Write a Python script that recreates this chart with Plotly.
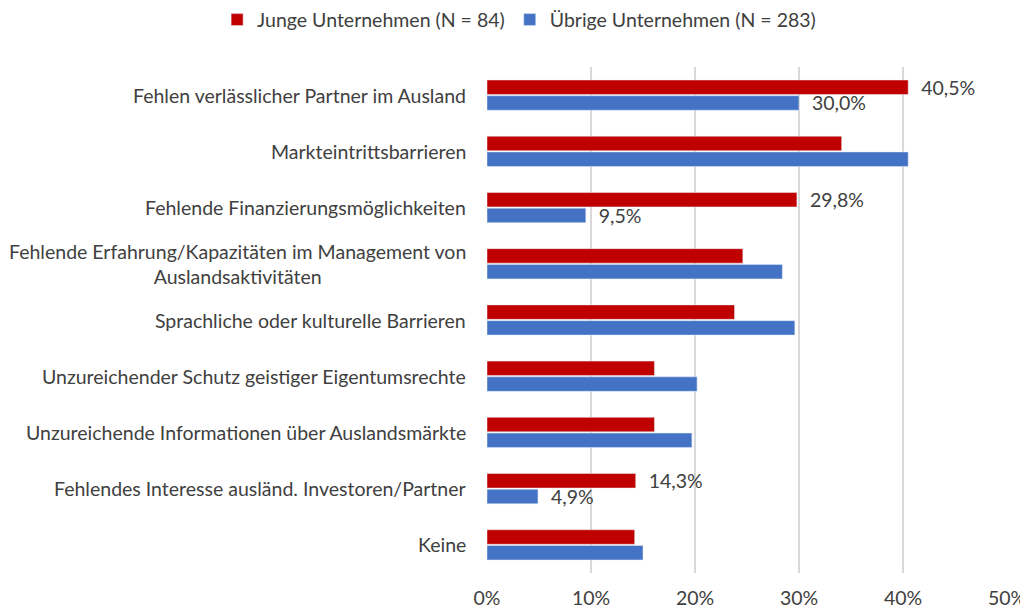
import plotly.graph_objects as go

categories = [
    "Fehlen verlässlicher Partner im Ausland",
    "Markteintrittsbarrieren",
    "Fehlende Finanzierungsmöglichkeiten",
    "Fehlende Erfahrung/Kapazitäten im Management von<br>Auslandsaktivitäten",
    "Sprachliche oder kulturelle Barrieren",
    "Unzureichender Schutz geistiger Eigentumsrechte",
    "Unzureichende Informationen über Auslandsmärkte",
    "Fehlendes Interesse ausländ. Investoren/Partner",
    "Keine",
]
junge = [40.5, 34.1, 29.8, 24.6, 23.8, 16.1, 16.1, 14.3, 14.2]
uebrige = [30.0, 40.5, 9.5, 28.4, 29.6, 20.2, 19.7, 4.9, 15.0]
junge_labels = ["40,5%", "", "29,8%", "", "", "", "", "14,3%", ""]
uebrige_labels = ["30,0%", "", "9,5%", "", "", "", "", "4,9%", ""]
tick_vals = [0, 10, 20, 30, 40, 50]
tick_text = ["0%", "10%", "20%", "30%", "40%", "50%"]

FONT = "Lato"
TXT = "#404040"
FS = 19.5
PAD = "\u00a0\u00a0"

fig = go.Figure()
fig.add_trace(go.Bar(
    y=categories, x=junge, orientation="h", name="Junge Unternehmen (N = 84)",
    marker_color="#C00000",
    text=[PAD + t if t else "" for t in junge_labels], textposition="outside",
    constraintext="none",
    textfont=dict(size=FS, color=TXT, family=FONT), cliponaxis=False,
))
fig.add_trace(go.Bar(
    y=categories, x=uebrige, orientation="h", name="Übrige Unternehmen (N = 283)",
    marker_color="#4472C4",
    text=[PAD + t if t else "" for t in uebrige_labels], textposition="outside",
    constraintext="none",
    textfont=dict(size=FS, color=TXT, family=FONT), cliponaxis=False,
))

for c in categories:
    fig.add_annotation(
        x=0, xref="paper", y=c, yref="y", text=c, showarrow=False,
        xanchor="right", xshift=-19, align="center",
        font=dict(size=FS, color=TXT, family=FONT),
    )

fig.update_layout(
    width=1020, height=601,
    margin=dict(l=479, r=21, t=59, b=36, autoexpand=False),
    paper_bgcolor="white", plot_bgcolor="white",
    barmode="group", bargap=0.44, bargroupgap=0.08,
    separators=",.",
    font=dict(family=FONT, size=FS, color=TXT),
    legend=dict(orientation="h", x=-0.519, xanchor="left", xref="paper",
                y=1.093, yanchor="middle", yref="paper",
                font=dict(size=FS, color=TXT, family=FONT),
                itemwidth=30, traceorder="normal"),
    showlegend=True,
)
fig.update_xaxes(range=[0, 50], tickvals=tick_vals, ticktext=tick_text,
                 showgrid=True, gridcolor="#D9D9D9", gridwidth=1.5,
                 zeroline=False, showline=False, ticks="", automargin=False,
                 ticklabelstandoff=11,
                 tickfont=dict(size=FS, color=TXT, family=FONT))
fig.update_yaxes(autorange="reversed", showticklabels=False, showgrid=False,
                 zeroline=False, showline=False, ticks="", automargin=False)

fig.write_html("out.html")
